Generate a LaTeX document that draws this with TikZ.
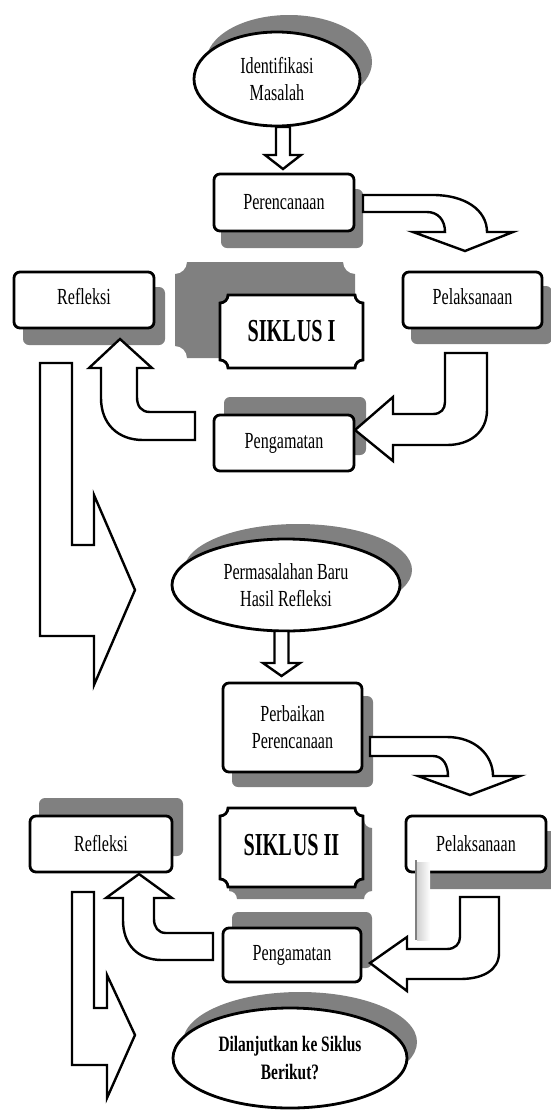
\documentclass[tikz,border=0pt]{standalone}
\usepackage{fontspec}
\setmainfont{Liberation Serif}[FakeStretch=0.7]
\newfontfamily\sikfont{Liberation Serif}[FakeStretch=0.63]
\usetikzlibrary{shapes.geometric}
\definecolor{shd}{RGB}{128,128,128}
\newcommand{\myplaque}[6]{%
  \pgfmathsetmacro{\pqk}{0.552*#6}%
  \path[#1] ({#2+#6},#3) -- ({#4-#6},#3)
    .. controls ({#4-#6},{#3+\pqk}) and ({#4-\pqk},{#3+#6}) .. (#4,{#3+#6})
    -- (#4,{#5-#6})
    .. controls ({#4-\pqk},{#5-#6}) and ({#4-#6},{#5-\pqk}) .. ({#4-#6},#5)
    -- ({#2+#6},#5)
    .. controls ({#2+#6},{#5-\pqk}) and ({#2+\pqk},{#5-#6}) .. (#2,{#5-#6})
    -- (#2,{#3+#6})
    .. controls ({#2+\pqk},{#3+#6}) and ({#2+#6},{#3+\pqk}) .. ({#2+#6},#3)
    -- cycle;%
}
\tikzset{
  box/.style={draw, line width=2.8pt, rounded corners=6pt, fill=white, align=center, inner sep=0pt, font={\fontsize{23}{27}\selectfont}},
  oval/.style={draw, ellipse, line width=2.8pt, fill=white, align=center, inner sep=0pt, font={\fontsize{23}{27}\selectfont}},
  shadowbox/.style={fill=shd, rounded corners=6pt},
  blockarrow/.style={draw, fill=white, line width=2.4pt, line join=miter},
  plaquetext/.style={inner sep=0pt, font={\sikfont\bfseries\fontsize{32}{36}\selectfont}}
}
\begin{document}
\begin{tikzpicture}[x=1pt,y=-1pt]
\useasboundingbox (0,0) rectangle (550,1111);
\fill[white] (0,0) rectangle (550,1111);

% ---------- shadows ----------
\fill[shd] (289,62) ellipse [x radius=83pt, y radius=47pt];
\fill[shadowbox] (221,189) rectangle (363,248);
\fill[shadowbox] (23,287) rectangle (165,345);
\fill[shadowbox] (411,286) rectangle (552,344);
\fill[shadowbox] (224,397) rectangle (366,455);
\myplaque{fill=shd}{175}{262}{355}{358}{12}
\fill[shd] (298,570) ellipse [x radius=114pt, y radius=46pt];
\fill[shadowbox] (232,696) rectangle (373,787);
\fill[shadowbox] (39,798) rectangle (183,856);
\myplaque{fill=shd}{229}{820}{372}{899}{8}
\fill[shadowbox] (416,831) rectangle (558,889);
\fill[shadowbox] (232,912) rectangle (372,968);
\fill[shd] (300,1042) ellipse [x radius=117pt, y radius=50pt];

% ---------- nodes ----------
\node[oval, minimum width=166pt, minimum height=94pt] (idm) at (277,79) {Identifikasi\\Masalah};
\node[box, minimum width=140pt, minimum height=57pt] (perenc) at (284,202.5) {Perencanaan};
\node[box, minimum width=140pt, minimum height=56pt] (refl1) at (84,300) {};
\node (refl1t) at (84,297) {\fontsize{23}{27}\selectfont Refleksi};
\node[box, minimum width=139pt, minimum height=56pt] (pelak1) at (472.5,300) {};
\node (pelak1t) at (472.5,297) {\fontsize{23}{27}\selectfont Pelaksanaan};
\myplaque{draw, fill=white, line width=2.8pt}{220}{295}{363}{368}{8}
\node[plaquetext] (sik1) at (291.5,331) {SIKL\kern1pt US I};
\node[box, minimum width=140pt, minimum height=56pt] (penga1) at (284,443) {Pengamatan};
\node[oval, minimum width=228pt, minimum height=92pt] (perm) at (286,585) {Permasalahan Baru\\Hasil Refleksi};
\node[box, minimum width=139pt, minimum height=89pt] (perb) at (292.5,727.5) {Perbaikan\\Perencanaan};
\node[box, minimum width=142pt, minimum height=56pt] (refl2) at (101,844) {Refleksi};
\myplaque{draw, fill=white, line width=2.8pt}{220}{808}{363}{887}{8}
\node[plaquetext] (sik2) at (291.5,845) {SIKL\kern1pt US II};
\node[box, minimum width=140pt, minimum height=56pt] (pelak2) at (476,844) {Pelaksanaan};
\node[box, minimum width=138pt, minimum height=54pt] (penga2) at (292,955) {Pengamatan};
\node[oval, minimum width=234pt, minimum height=100pt, font={\bfseries\fontsize{22}{28}\selectfont}] (dil) at (290,1058) {Dilanjutkan ke Siklus\\Berikut?};

% ---------- block arrows ----------
% Identifikasi -> Perencanaan
\draw[blockarrow] (276,127) -- (290,127) -- (290,155) -- (301,155) -- (283,169) -- (265,155) -- (276,155) -- cycle;
% Perencanaan -> Pelaksanaan
\draw[blockarrow] (363,195) -- (433,195) .. controls (465,195) and (487,210) .. (487,232)
  -- (513,232) -- (465,251) -- (413,232) -- (445,232)
  .. controls (445,220) and (438,212) .. (427,212) -- (363,212) -- cycle;
% Pelaksanaan -> Pengamatan (I)
\draw[blockarrow] (487,353) -- (487,410) .. controls (487,432) and (470,445) .. (447,445)
  -- (393,445) -- (393,461) -- (355,430) -- (393,397) -- (393,414) -- (433,414)
  .. controls (441,414) and (445,409) .. (445,402) -- (445,353) -- cycle;
% Pengamatan -> Refleksi (I)
\draw[blockarrow] (195,412) -- (150,412) .. controls (141,412) and (137,406) .. (137,397)
  -- (137,368) -- (152,368) -- (120,339) -- (89,368) -- (101,368) -- (101,398)
  .. controls (101,424) and (118,440) .. (143,440) -- (195,440) -- cycle;
% big arrow I
\draw[blockarrow] (40,363) -- (72,363) -- (72,545) -- (94,545) -- (94,495) -- (135,590) -- (94,685) -- (94,636) -- (40,636) -- cycle;
% Permasalahan -> Perbaikan
\draw[blockarrow] (274.5,631) -- (288.5,631) -- (288.5,663) -- (300,663) -- (281.5,676) -- (263,663) -- (274.5,663) -- cycle;
% Perbaikan -> Pelaksanaan II
\draw[blockarrow] (370,737) -- (447,737) .. controls (475,737) and (493,755) .. (493,776)
  -- (520,776) -- (470,795) -- (418,776) -- (448,776)
  .. controls (448,765) and (443,756) .. (433,756) -- (370,756) -- cycle;
% Pelaksanaan -> Pengamatan (II)
\draw[blockarrow] (499,897) -- (499,953) .. controls (499,970) and (483,979) .. (460,979)
  -- (407,979) -- (407,991) -- (370,963) -- (407,937) -- (407,949) -- (447,949)
  .. controls (455,949) and (460,944) .. (460,937) -- (460,897) -- cycle;
% Pengamatan -> Refleksi (II)
\draw[blockarrow] (213,933) -- (166,933) .. controls (158,933) and (154,927) .. (154,919)
  -- (154,898) -- (172,898) -- (139,874) -- (106,898) -- (123,898) -- (123,920)
  .. controls (123,945) and (138,960) .. (162,960) -- (213,960) -- cycle;
% big arrow II
\draw[blockarrow] (72,892) -- (94,892) -- (94,1008) -- (107,1008) -- (107,975) -- (135,1035) -- (107,1098) -- (107,1065) -- (72,1065) -- cycle;

% shadow artefact near Pelaksanaan II
\shade[left color=black!18, right color=white] (417,862) rectangle (430,940);
\draw[shd, line width=1.2pt] (416,860) -- (416,940);
\end{tikzpicture}
\end{document}
